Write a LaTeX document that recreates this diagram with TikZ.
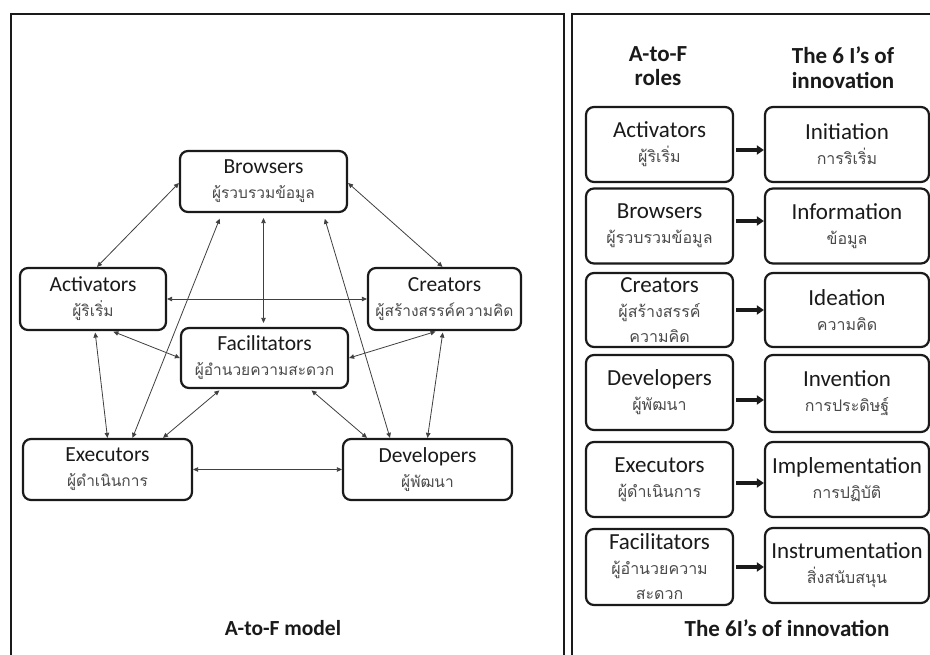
\documentclass[tikz,border=0pt]{standalone}
\usepackage{fontspec}
\setmainfont{Carlito}
\newfontfamily\thaifont[Script=Thai]{Loma}
\usetikzlibrary{arrows.meta,calc}
\definecolor{thaigray}{HTML}{4A4A4A}
\definecolor{inkblack}{HTML}{1A1A1A}
\newcommand\thtext[1]{{\thaifont\fontsize{15.5}{25}\selectfont\color{thaigray}#1}}
\newcommand\thtextR[1]{{\thaifont\fontsize{16}{25}\selectfont\color{thaigray}#1}}
\tikzset{
  frame/.style={line width=2.6pt, draw=inkblack},
  role/.style={draw=inkblack, line width=2.2pt, rounded corners=8pt, align=center,
    inner sep=0pt, text=inkblack, font=\fontsize{21.5}{25}\selectfont},
  rolebig/.style={role, font=\fontsize{23}{25}\selectfont, minimum height=75pt},
  link/.style={line width=0.8pt, draw=black!75,
    {Triangle[length=5pt,width=4.5pt]}-{Triangle[length=5pt,width=4.5pt]}},
  maparrow/.style={line width=3.2pt, draw=inkblack,
    -{Triangle[length=7pt,width=9pt]}, shorten <=2pt},
  heading/.style={font=\bfseries\fontsize{21.5}{24}\selectfont, text=inkblack, align=center, inner sep=0pt},
  headingR/.style={font=\bfseries\fontsize{23}{24.5}\selectfont, text=inkblack, align=center, inner sep=0pt}
}
\begin{document}
\begin{tikzpicture}[x=1pt,y=-1pt]
\useasboundingbox (0,0) rectangle (930,655);
\fill[white] (0,0) rectangle (930,655);

% panel frames
\draw[frame] (11,664) -- (11,14) -- (564,14) -- (564,664);
\draw[frame] (572,664) -- (572,14) -- (940,14);

% ---- A-to-F model ----
\node[role, minimum width=167pt, minimum height=61pt] (B) at (263.5,181.5)
  {Browsers\\\thtext{ผู้รวบรวมข้อมูล}};
\node[role, minimum width=146pt, minimum height=62pt] (A) at (93,299)
  {Activators\\\thtext{ผู้ริเริ่ม}};
\node[role, minimum width=153pt, minimum height=62pt] (C) at (444.5,299)
  {Creators\\\thtext{ผู้สร้างสรรค์ความคิด}};
\node[role, minimum width=167pt, minimum height=60pt] (F) at (264.5,358)
  {Facilitators\\\thtext{ผู้อำนวยความสะดวก}};
\node[role, minimum width=169pt, minimum height=61pt] (E) at (107.5,469.5)
  {Executors\\\thtext{ผู้ดำเนินการ}};
\node[role, minimum width=169pt, minimum height=61pt] (D) at (427.5,469.5)
  {Developers\\\thtext{ผู้พัฒนา}};

\draw[link] ([yshift=-1.5pt]B.west) -- ([xshift=4pt]A.north);
\draw[link] ([yshift=-1.5pt]B.east) -- ([xshift=-2pt]C.north);
\draw[link] (A.east) -- (C.west);
\draw[link, shorten <=5pt, shorten >=4pt] (B.south) -- (B.south |- F.north);
\draw[link, shorten <=6pt] ([xshift=43pt]B.south west) -- ([xshift=25pt]E.north);
\draw[link, shorten <=6pt] ([xshift=-25pt]B.south east) -- ([xshift=-37.5pt]D.north);
\draw[link, shorten <=1.5pt] ([xshift=2pt]A.south) -- (E.north);
\draw[link, shorten <=1.5pt] ([xshift=19pt]A.south) -- (F.west);
\draw[link, shorten <=1.5pt] ([xshift=-7.5pt]C.south) -- (F.east);
\draw[link, shorten <=1.5pt] ([xshift=-1.5pt]C.south) -- (D.north);
\draw[link, shorten <=2pt] ([xshift=41pt]F.south west) -- ([xshift=55.5pt]E.north);
\draw[link, shorten <=2pt] ([xshift=-39pt]F.south east) -- ([xshift=-60.5pt]D.north);
\draw[link] (E.east) -- (D.west);

\node[heading] (modeltitle) at (283,628) {A-to-F model};

% ---- roles and the 6 I's ----
\node[headingR] (hroles) at (658,66) {A-to-F\\roles};
\node[headingR] (hsix) at (843,67.5) {The 6 I’s of\\innovation};

\node[rolebig, minimum width=147pt] (L1) at (659.5,144.5) {Activators\\\thtextR{ผู้ริเริ่ม}};
\node[rolebig, minimum width=147pt] (L2) at (659.5,226) {Browsers\\\thtextR{ผู้รวบรวมข้อมูล}};
\node[rolebig, minimum width=147pt, minimum height=74pt] (L3) at (659.5,310)
  {Creators\\\thtextR{ผู้สร้างสรรค์}\\\thtextR{ความคิด}};
\node[rolebig, minimum width=147pt] (L4) at (659.5,392.5) {Developers\\\thtextR{ผู้พัฒนา}};
\node[rolebig, minimum width=147pt] (L5) at (659.5,479.5) {Executors\\\thtextR{ผู้ดำเนินการ}};
\node[rolebig, minimum width=147pt, minimum height=76pt] (L6) at (659.5,567)
  {Facilitators\\\thtextR{ผู้อำนวยความ}\\\thtextR{สะดวก}};

\node[rolebig, minimum width=164pt] (R1) at (847,144.5) {Initiation\\\thtextR{การริเริ่ม}};
\node[rolebig, minimum width=164pt] (R2) at (847,226) {Information\\\thtextR{ข้อมูล}};
\node[rolebig, minimum width=164pt, minimum height=74pt] (R3) at (847,310) {Ideation\\\thtextR{ความคิด}};
\node[rolebig, minimum width=164pt, minimum height=77pt] (R4) at (847,393.5) {Invention\\\thtextR{การประดิษฐ์}};
\node[rolebig, minimum width=164pt] (R5) at (847,479.5) {Implementation\\\thtextR{การปฏิบัติ}};
\node[rolebig, minimum width=164pt] (R6) at (847,565.5) {Instrumentation\\\thtextR{สิ่งสนับสนุน}};

\draw[maparrow] ([yshift=-5.5pt]L1.east) -- ([yshift=-5.5pt]L1.east -| R1.west);
\draw[maparrow] ([yshift=5pt]L2.east) -- ([yshift=5pt]L2.east -| R2.west);
\draw[maparrow] (L3.east) -- (L3.east -| R3.west);
\draw[maparrow] ([yshift=-7.5pt]L4.east) -- ([yshift=-7.5pt]L4.east -| R4.west);
\draw[maparrow] ([yshift=-3.5pt]L5.east) -- ([yshift=-3.5pt]L5.east -| R5.west);
\draw[maparrow] (L6.east) -- (L6.east -| R6.west);

\node[headingR] (sixtitle) at (787,628) {The 6I’s of innovation};
\end{tikzpicture}
\end{document}
